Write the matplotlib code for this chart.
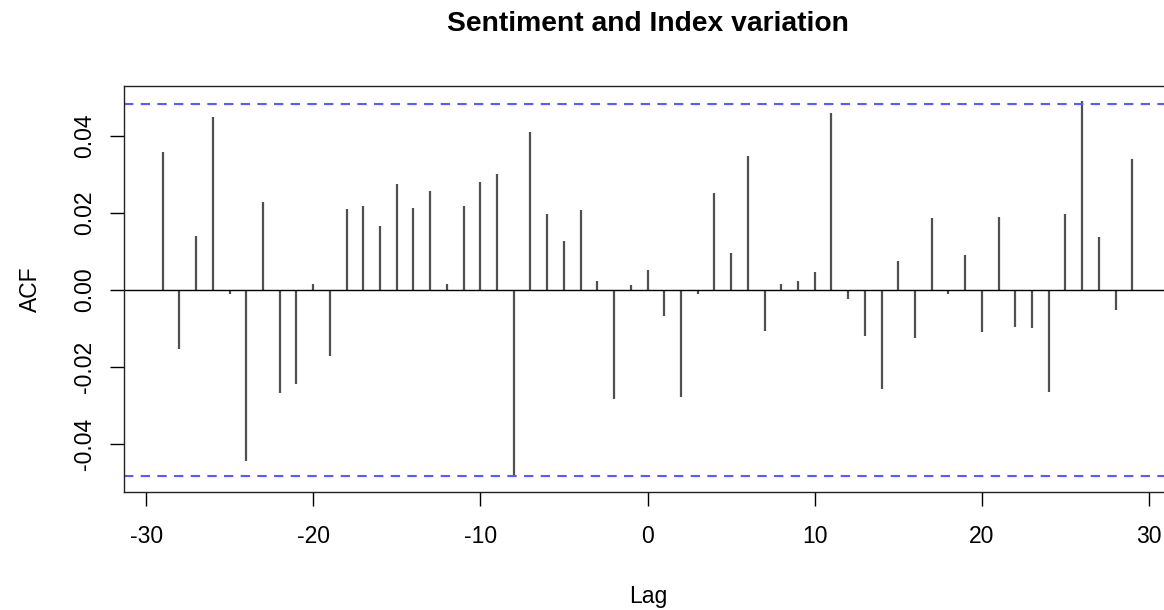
#cross correlation of sentiment and index variation
#values read off the R ccf() plot, lags -29 to 29

import numpy as np
import matplotlib.pyplot as plt

lags = np.arange(-29, 30)
acf_vals = [0.0359, -0.0153, 0.0141, 0.0450, -0.0012, -0.0445, 0.0227, -0.0268,
            -0.0245, 0.0014, -0.0173, 0.0209, 0.0218, 0.0166, 0.0274, 0.0212,
            0.0258, 0.0016, 0.0219, 0.0281, 0.0301, -0.0485, 0.0411, 0.0196,
            0.0127, 0.0207, 0.0022, -0.0283, 0.0013,
            0.0051,
            -0.0069, -0.0278, -0.0012, 0.0252, 0.0095, 0.0347, -0.0108, 0.0016,
            0.0022, 0.0047, 0.0459, -0.0023, -0.0121, -0.0258, 0.0075, -0.0126,
            0.0187, -0.0010, 0.0090, -0.0109, 0.0188, -0.0096, -0.0100, -0.0265,
            0.0196, 0.0492, 0.0136, -0.0052, 0.0341]
conf_limit = 0.0484  #blue dashed significance band
x_ticks = [-30, -20, -10, 0, 10, 20, 30]
y_ticks = [-0.04, -0.02, 0.0, 0.02, 0.04]
y_tick_labels = ['-0.04', '-0.02', '0.00', '0.02', '0.04']

plt.rcParams['font.family'] = ['Liberation Sans', 'DejaVu Sans']

fig = plt.figure(figsize=(11.64, 6.10), dpi=100)
#plot region is cut off on the right like the original screenshot
ax = fig.add_axes([124/1164, 118/610, 1047/1164, 406/610])

ax.vlines(lags, 0, acf_vals, color='#505050', linewidth=1.6)
ax.axhline(0, color='black', linewidth=1.0)
for lim in (conf_limit, -conf_limit):
    ax.axhline(lim, color='#5a5aff', linewidth=1.5, dashes=(4.5, 3.5))

ax.set_xlim(-31.32, 31.32)
ax.set_ylim(-0.0526, 0.0530)

ax.set_xticks(x_ticks)
ax.set_xticklabels([str(t) for t in x_ticks], fontsize=16.5)
ax.set_yticks(y_ticks)
ax.set_yticklabels(y_tick_labels, fontsize=16.5, rotation=90, va='center')
ax.tick_params(axis='both', direction='out', length=10, width=1.0, color='black')
ax.tick_params(axis='x', pad=14)
ax.tick_params(axis='y', pad=10)
for sp in ax.spines.values():
    sp.set_linewidth(1.0)
    sp.set_color('#222222')

fig.text(648/1164, 1 - 30.7/610, 'Sentiment and Index variation',
         ha='center', va='baseline', fontsize=20.3, fontweight='bold')
fig.text(648/1164, 1 - 596/610, 'Lag', ha='center', va='center', fontsize=16.5)
fig.text(30/1164, 1 - 289/610, 'ACF', ha='center', va='center',
         rotation=90, fontsize=16.5)

fig.savefig('out.png', dpi=100)
